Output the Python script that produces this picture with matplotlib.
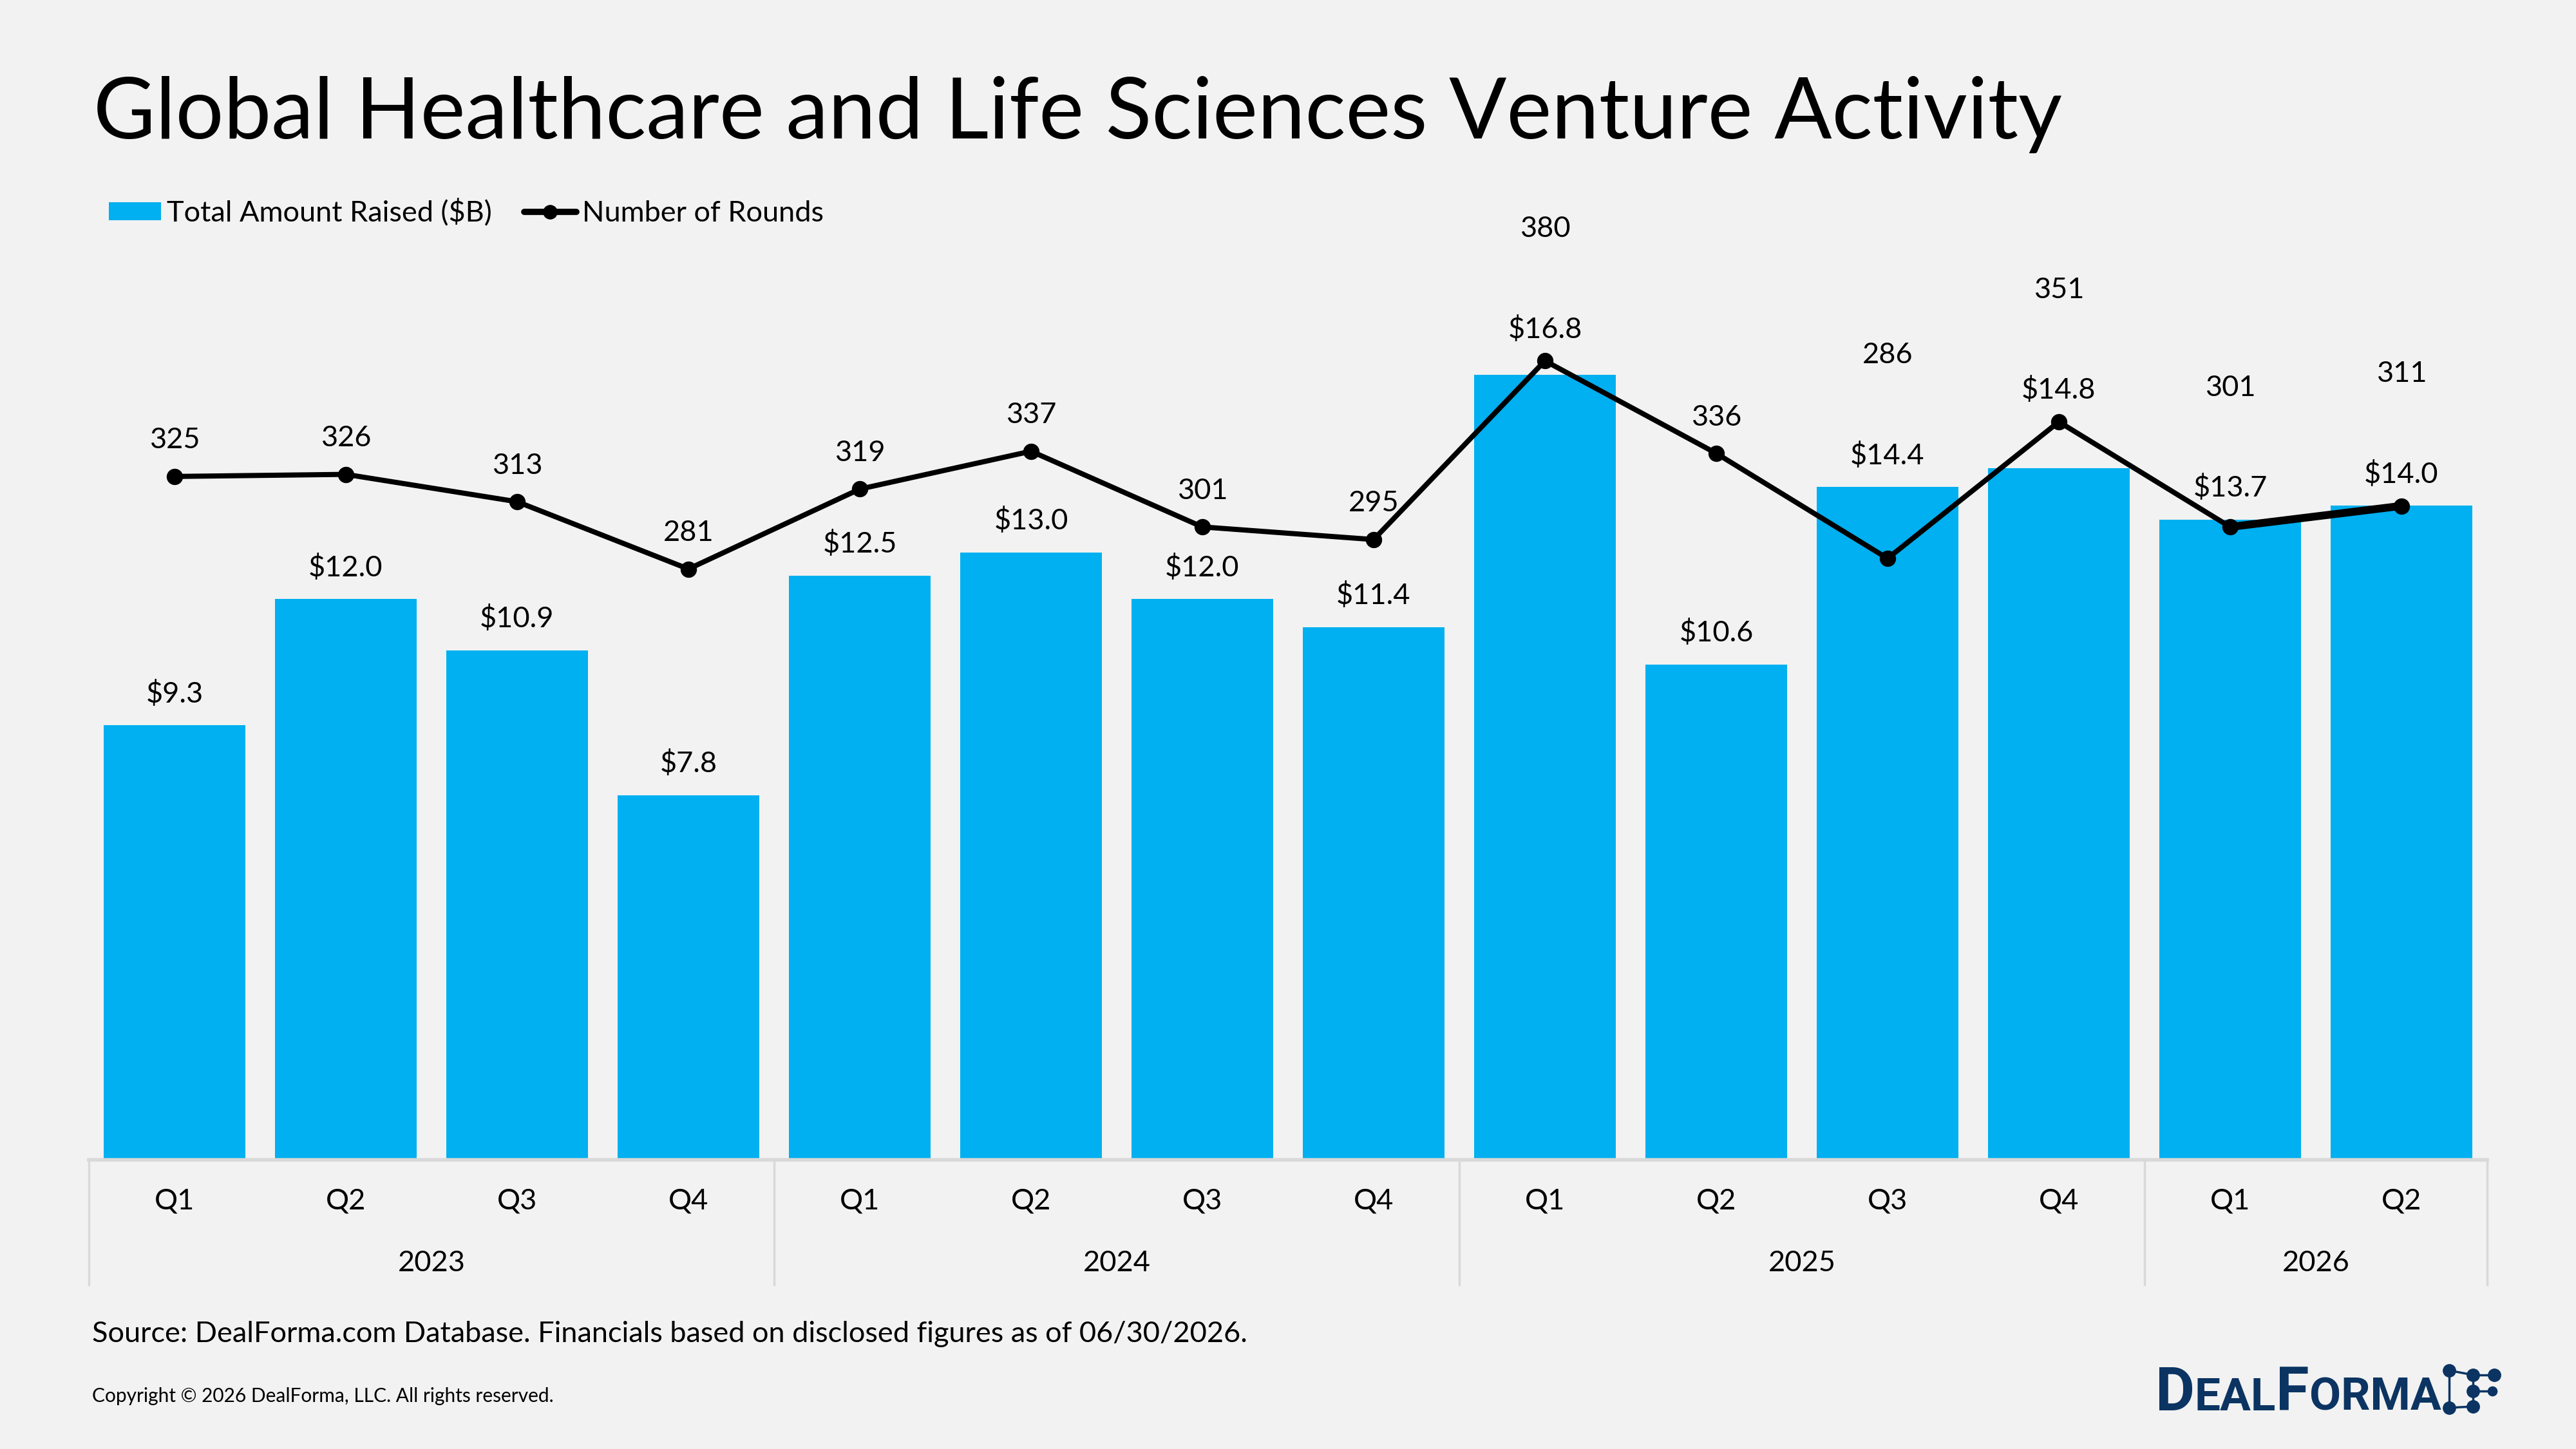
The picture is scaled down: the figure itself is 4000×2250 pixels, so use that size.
import numpy as np
import matplotlib
matplotlib.use("Agg")
import matplotlib.pyplot as plt
from matplotlib.lines import Line2D
from matplotlib.patches import Patch
from matplotlib.offsetbox import TextArea, HPacker, AnnotationBbox

plt.rcParams['font.family'] = ['Lato', 'DejaVu Sans']

# data
quarters = ['Q1', 'Q2', 'Q3', 'Q4', 'Q1', 'Q2', 'Q3', 'Q4',
            'Q1', 'Q2', 'Q3', 'Q4', 'Q1', 'Q2']
years = ['2023'] * 4 + ['2024'] * 4 + ['2025'] * 4 + ['2026'] * 2
amount_raised = [9.3, 12.0, 10.9, 7.8, 12.5, 13.0, 12.0, 11.4,
                 16.8, 10.6, 14.4, 14.8, 13.7, 14.0]
num_rounds = [325, 326, 313, 281, 319, 337, 301, 295,
              380, 336, 286, 351, 301, 311]

BLUE = '#00B0F0'
GRID = '#D9D9D9'
BG = '#F2F2F2'
NAVY = '#0B3462'
FS = 13

fig = plt.figure(figsize=(16, 9), dpi=250, facecolor=BG)
ax = fig.add_axes([0.0345, 0.1996, 0.931, 0.5804])
ax.set_facecolor(BG)
x = np.arange(len(quarters))

ax.bar(x, amount_raised, width=0.825, color=BLUE, zorder=2)
ax.set_xlim(-0.5, len(quarters) - 0.5)
ax.set_ylim(0, 18)

ax2 = ax.twinx()
ax2.set_ylim(0, 400)
ax2.plot(x, num_rounds, color='black', lw=2.3, marker='o', ms=6.3, zorder=3)
ax2.plot(x[-2:], num_rounds[-2:], color='black', lw=3.5, solid_capstyle='round', zorder=3)

for a in (ax, ax2):
    for s in ('top', 'left', 'right'):
        a.spines[s].set_visible(False)
    a.set_yticks([])
ax2.spines['bottom'].set_visible(False)
ax.spines['bottom'].set_color(GRID)
ax.spines['bottom'].set_linewidth(1.6)
ax.set_xticks([])

# data labels (bar label bumps above the line marker when they collide,
# round label bumps above the bar label)
scale = 18 / 400
for i in range(len(x)):
    b = amount_raised[i]
    p = num_rounds[i] * scale
    anchor = p if 0 <= p - b < 1.23 else b
    by = anchor + 0.67
    ly = p + 0.77
    if ly - by < 1.4:
        ly = by + 2.15
    ax2.text(x[i], by, f'${b:.1f}', transform=ax.transData, ha='center', va='center',
             fontsize=FS, color='black', clip_on=False)
    ax2.text(x[i], ly, f'{num_rounds[i]}', transform=ax.transData, ha='center', va='center',
             fontsize=FS, color='black', clip_on=False)

# two-level category axis
trans = ax.get_xaxis_transform()
for i, q in enumerate(quarters):
    ax.text(i, -0.049, q, transform=trans, ha='center', va='center', fontsize=FS)
year_list = list(dict.fromkeys(years))
bounds = [-0.5]
for y in year_list:
    idx = [i for i, v in enumerate(years) if v == y]
    ax.text(np.mean(idx), -0.1233, y, transform=trans, ha='center', va='center', fontsize=FS)
    bounds.append(idx[-1] + 0.5)
for bx in bounds:
    ax.plot([bx, bx], [0, -0.1485], transform=trans, color=GRID, lw=1.0, clip_on=False)

# legend
handles = [Patch(facecolor=BLUE, edgecolor='none'),
           Line2D([], [], color='black', lw=2.8, marker='o', ms=5.5, solid_capstyle='round')]
fig.legend(handles, ['Total Amount Raised ($B)', 'Number of Rounds'],
           loc='center left', bbox_to_anchor=(169 / 4000, 1 - 330 / 2250), ncol=2, frameon=False,
           fontsize=FS, handlelength=1.8, handleheight=0.6, handletextpad=0.2,
           columnspacing=1.1, borderaxespad=0, borderpad=0)

# title and notes
fig.text(145 / 4000, 1 - 215 / 2250, 'Global Healthcare and Life Sciences Venture Activity',
         fontsize=38, color='black', va='baseline', ha='left')
fig.text(143 / 4000, 1 - 2071 / 2250,
         'Source: DealForma.com Database. Financials based on disclosed figures as of 06/30/2026.',
         fontsize=FS, va='center', ha='left')
fig.text(143 / 4000, 1 - 2168 / 2250, 'Copyright \u00a9 2026 DealForma, LLC. All rights reserved.',
         fontsize=8.6, va='center', ha='left')

# logo
big = dict(fontsize=27, fontweight='bold', color=NAVY, family='Roboto')
small = dict(fontsize=20.5, fontweight='bold', color=NAVY, family='Roboto')
parts = [TextArea('D', textprops=big), TextArea('EAL', textprops=small),
         TextArea('F', textprops=big), TextArea('ORMA', textprops=small)]
pack = HPacker(children=parts, align='baseline', pad=0, sep=0)
ab = AnnotationBbox(pack, (3347 / 4000, 1 - 2200 / 2250), xycoords='figure fraction',
                    box_alignment=(0, 0.1), frameon=False)
fig.add_artist(ab)

lax = fig.add_axes([3790 / 4000, 1 - 2205 / 2250, 95 / 4000, 95 / 2250])
lax.set_xlim(3790, 3885)
lax.set_ylim(2205, 2110)
lax.axis('off')
nodes = {'a': (3803, 2128), 'b': (3840, 2135), 'c': (3873, 2135), 'd': (3840, 2160),
         'e': (3870, 2160), 'f': (3803, 2186), 'g': (3840, 2184)}
edges = [('a', 'b'), ('b', 'c'), ('a', 'f'), ('b', 'g'), ('d', 'e'), ('f', 'g')]
for e0, e1 in edges:
    lax.plot([nodes[e0][0], nodes[e1][0]], [nodes[e0][1], nodes[e1][1]], color=NAVY, lw=1.0)
for k, (nx, ny) in nodes.items():
    lax.plot(nx, ny, 'o', color=NAVY, ms=3.5 if k == 'e' else 5)

fig.savefig('out.png', dpi=250, facecolor=BG)
